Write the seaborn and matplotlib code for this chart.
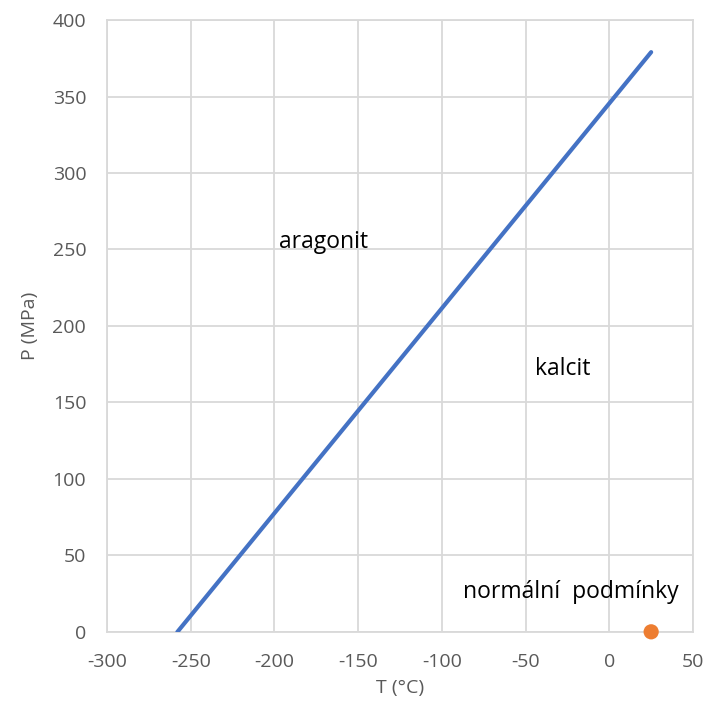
import matplotlib
matplotlib.use('Agg')
import matplotlib.pyplot as plt
import seaborn as sns
import pandas as pd

# Phase boundary aragonit / kalcit
boundary_T = [-258, 25]
boundary_P = [0, 379]

# Normal conditions point
normal_T = [25]
normal_P = [0.1]

x_ticks = [-300, -250, -200, -150, -100, -50, 0, 50]
y_ticks = [0, 50, 100, 150, 200, 250, 300, 350, 400]

sns.set_style("white")
plt.rcParams['font.family'] = ['Open Sans', 'DejaVu Sans']
plt.rcParams['axes.unicode_minus'] = False

fig = plt.figure(figsize=(7.06, 7.12), dpi=100)
ax = fig.add_axes([0.1516, 0.1124, 0.8300, 0.8595])

line_df = pd.DataFrame({'T': boundary_T, 'P': boundary_P})
point_df = pd.DataFrame({'T': normal_T, 'P': normal_P})

sns.lineplot(data=line_df, x='T', y='P', ax=ax, color='#4472c4', linewidth=3, zorder=3)
sns.scatterplot(data=point_df, x='T', y='P', ax=ax, color='#ed7d31', s=120, edgecolor='none',
                zorder=4, clip_on=False)

ax.set_xlim(-300, 50)
ax.set_ylim(0, 400)
ax.set_xticks(x_ticks)
ax.set_yticks(y_ticks)
ax.grid(True, color='#d9d9d9', linewidth=1.3)
for s in ax.spines.values():
    s.set_color('#d9d9d9')
    s.set_linewidth(1.3)
ax.tick_params(axis='both', length=0, labelsize=14, labelcolor='#595959', pad=15)

ax.set_xlabel('T (°C)', fontsize=14, color='#595959', labelpad=6)
ax.set_ylabel('P (MPa)', fontsize=14, color='#595959', labelpad=10)

ax.text(-171, 255, 'aragonit', fontsize=16.5, ha='center', va='center', color='black')
ax.text(-28, 172, 'kalcit', fontsize=16.5, ha='center', va='center', color='black')
ax.text(-23, 26, 'normální  podmínky', fontsize=16.5, ha='center', va='center', color='black')

fig.savefig('out.png', dpi=100)
